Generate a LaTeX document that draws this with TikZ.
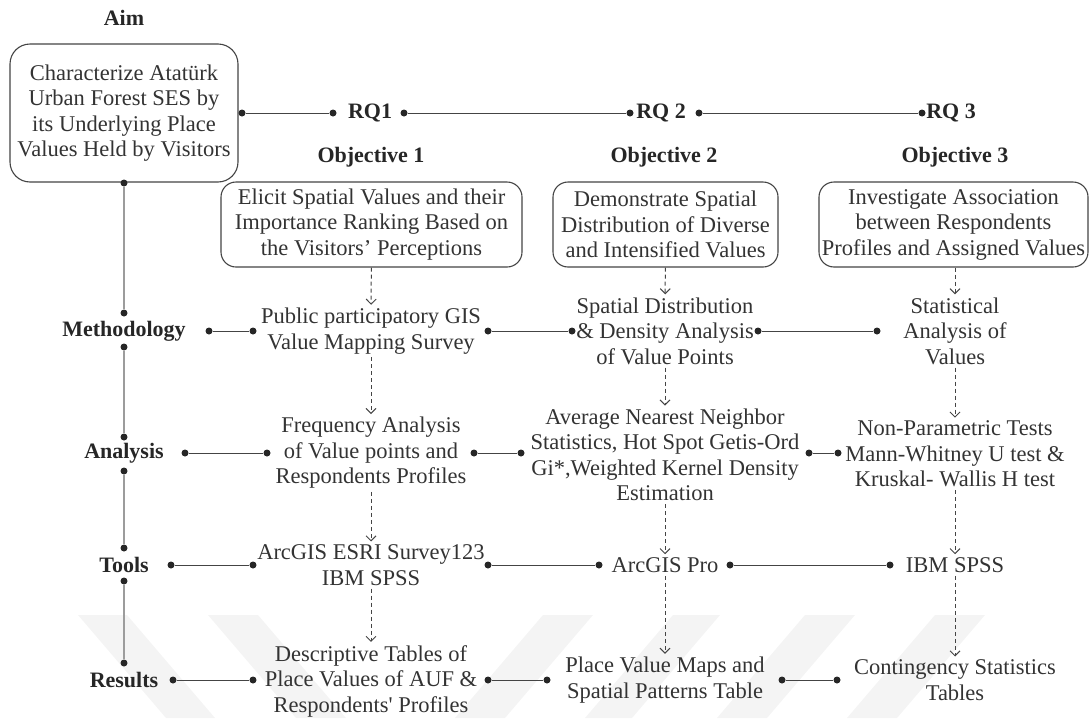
\documentclass[tikz,border=0pt]{standalone}
\usepackage{fontspec}
\setmainfont{Liberation Serif}[Ligatures=TeXOff]
\usetikzlibrary{arrows.meta}
\definecolor{txtc}{HTML}{333333}
\definecolor{linec}{HTML}{444444}
\definecolor{spinec}{HTML}{9C9C9C}
\definecolor{wmark}{HTML}{F4F4F4}
\tikzset{
  txt/.style={text=txtc, align=center, inner sep=3pt, font=\fontsize{22.5}{25.5}\selectfont},
  lbl/.style={text=black!85, inner sep=2pt, font=\fontsize{22}{25}\selectfont\bfseries},
  obox/.style={txt, draw=linec, line width=1.1pt, rounded corners=15pt, inner xsep=1pt, inner ysep=2pt},
  dot/.style={circle, fill=black!85, inner sep=0pt, minimum size=7pt},
  conn/.style={draw=linec, line width=1pt},
  spine/.style={draw=spinec, line width=2pt},
  darr/.style={draw=linec, line width=1pt, dash pattern=on 4pt off 3pt, -{Straight Barb[length=5pt,width=10pt]}},
  wm/.style={fill=wmark, draw=none}
}
\begin{document}
\begin{tikzpicture}[x=1pt, y=-1pt]
\useasboundingbox (0,0) rectangle (1090,718);
% watermark
\fill[wm] (78,615) -- (127,615) -- (215,718) -- (166,718) -- cycle;
\fill[wm] (208,615) -- (258,615) -- (346,718) -- (296,718) -- cycle;
\fill[wm] (543,615) -- (593,615) -- (505,718) -- (455,718) -- cycle;
\fill[wm] (673,615) -- (720,615) -- (632,718) -- (585,718) -- cycle;
\fill[wm] (805,615) -- (855,615) -- (767,718) -- (717,718) -- cycle;
\fill[wm] (935,615) -- (985,615) -- (897,718) -- (847,718) -- cycle;

% labels
\node[lbl] (aimlbl) at (124,18) {Aim};
\node[lbl] (ob1lbl) at (371,157) {Objective 1};
\node[lbl] (ob2lbl) at (664,157) {Objective 2};
\node[lbl] (ob3lbl) at (955,157) {Objective 3};
\node[lbl] (rq1) at (370,113) {RQ1};
\node[lbl] (rq2) at (661,113) {RQ 2};
\node[lbl] (rq3) at (951,113) {RQ 3};
\node[lbl] (meth) at (124,331) {Methodology};
\node[lbl] (anal) at (124,453) {Analysis};
\node[lbl] (tool) at (124,565) {Tools};
\node[lbl] (resu) at (124,680) {Results};

% boxes
\node[obox, minimum width=228pt, minimum height=138pt, rounded corners=20pt] (aim) at (124,113)
  {Characterize Atatürk\\Urban Forest SES by\\its Underlying Place\\Values Held by Visitors};
\node[obox, minimum width=301pt, minimum height=85pt] (o1) at (371.5,224.5)
  {Elicit Spatial Values and their\\Importance Ranking Based on\\the Visitors’ Perceptions};
\node[obox, minimum width=225pt, minimum height=85pt] (o2) at (665.5,224.5)
  {Demonstrate Spatial\\Distribution of Diverse\\and Intensified Values};
\node[obox, minimum width=269pt, minimum height=85pt] (o3) at (953.5,224.5)
  {Investigate Association\\between Respondents\\Profiles and Assigned Values};

% row texts
\node[txt] (m1) at (371,331) {Public participatory GIS\\Value Mapping Survey};
\node[txt] (m2) at (665,331) {Spatial Distribution\\\& Density Analysis\\of Value Points};
\node[txt] (m3) at (955,331) {Statistical\\Analysis of\\Values};
\node[txt] (a1) at (371,453) {Frequency Analysis\\of Value points and\\Respondents Profiles};
\node[txt] (a2) at (665,455) {Average Nearest Neighbor\\Statistics, Hot Spot Getis-Ord\\Gi*,Weighted Kernel Density\\Estimation};
\node[txt] (a3) at (955,454) {Non-Parametric Tests\\Mann-Whitney U test \&\\Kruskal- Wallis H test};
\node[txt] (t1) at (371,565) {ArcGIS ESRI Survey123\\IBM SPSS};
\node[txt] (t2) at (665,565) {ArcGIS Pro};
\node[txt] (t3) at (955,565) {IBM SPSS};
\node[txt] (r1) at (371,681) {Descriptive Tables of\\Place Values of AUF \&\\Respondents' Profiles};
\node[txt] (r2) at (665,680) {Place Value Maps and\\Spatial Patterns Table};
\node[txt] (r3) at (955,680) {Contingency Statistics\\Tables};

% spine dots
\node[dot] (s0) at (124,183) {};
\node[dot] (s1) at (124,313) {};
\node[dot] (s2) at (124,347) {};
\node[dot] (s3) at (124,437) {};
\node[dot] (s4) at (124,471) {};
\node[dot] (s5) at (124,548) {};
\node[dot] (s6) at (124,581) {};
\node[dot] (s7) at (124,663) {};
\draw[spine] (s0) -- (s1);
\draw[spine] (s2) -- (s3);
\draw[spine] (s4) -- (s5);
\draw[spine] (s6) -- (s7);

% horizontal connector dots
\node[dot] (q1) at (242,113) {};
\node[dot] (q2) at (333,113) {};
\node[dot] (q3) at (404,113) {};
\node[dot] (q4) at (630,113) {};
\node[dot] (q5) at (699,113) {};
\node[dot] (q6) at (922,113) {};
\draw[conn] (q1) -- (q2);
\draw[conn] (q3) -- (q4);
\draw[conn] (q5) -- (q6);

\node[dot] (mA) at (209,331) {};
\node[dot] (mB) at (253,331) {};
\node[dot] (mC) at (488,331) {};
\node[dot] (mD) at (572,331) {};
\node[dot] (mE) at (758,331) {};
\node[dot] (mF) at (877,331) {};
\draw[conn] (mA) -- (mB);
\draw[conn] (mC) -- (mD);
\draw[conn] (mE) -- (mF);

\node[dot] (aA) at (185,453) {};
\node[dot] (aB) at (267,453) {};
\node[dot] (aC) at (474,453) {};
\node[dot] (aD) at (521,453) {};
\node[dot] (aE) at (809,453) {};
\node[dot] (aF) at (838,453) {};
\draw[conn] (aA) -- (aB);
\draw[conn] (aC) -- (aD);
\draw[conn] (aE) -- (aF);

\node[dot] (tA) at (171,565) {};
\node[dot] (tB) at (253,565) {};
\node[dot] (tC) at (488,565) {};
\node[dot] (tD) at (599,565) {};
\node[dot] (tE) at (730,565) {};
\node[dot] (tF) at (890,565) {};
\draw[conn] (tA) -- (tB);
\draw[conn] (tC) -- (tD);
\draw[conn] (tE) -- (tF);

\node[dot] (rA) at (173,680) {};
\node[dot] (rB) at (253,680) {};
\node[dot] (rC) at (488,680) {};
\node[dot] (rD) at (547,680) {};
\node[dot] (rE) at (782,680) {};
\node[dot] (rF) at (837,680) {};
\draw[conn] (rA) -- (rB);
\draw[conn] (rC) -- (rD);
\draw[conn] (rE) -- (rF);

% dashed arrows
\draw[darr] (o1) -- (m1);
\draw[darr] (m1) -- (a1);
\draw[darr] (a1) -- (t1);
\draw[darr] (t1) -- (r1);
\draw[darr] (o2) -- (m2);
\draw[darr] (m2) -- (a2);
\draw[darr] (a2) -- (t2);
\draw[darr] (t2) -- (r2);
\draw[darr] (o3.south -| m3) -- (m3);
\draw[darr] (m3) -- (a3);
\draw[darr] (a3) -- (t3);
\draw[darr] (t3) -- (r3);
\end{tikzpicture}
\end{document}
